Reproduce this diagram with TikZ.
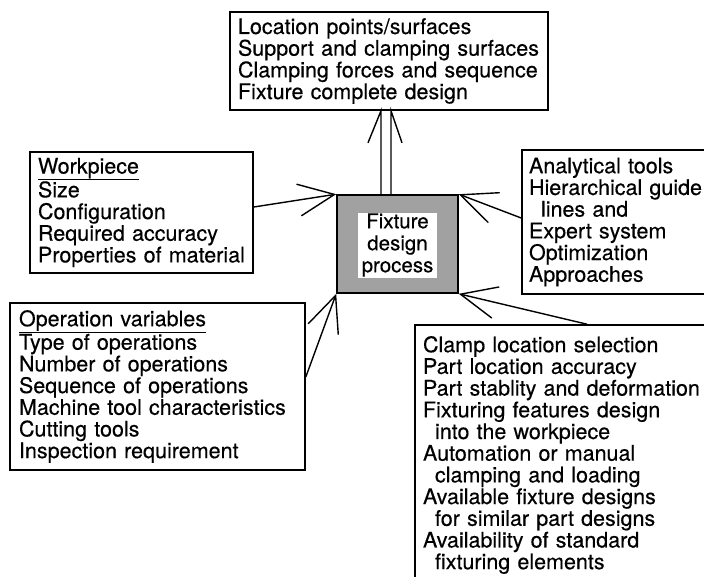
\documentclass[tikz,border=0pt]{standalone}
\usepackage{fontspec}
\setmainfont[FakeBold=0.35]{TeX Gyre Heros}
\usetikzlibrary{arrows.meta}
\begin{document}
\begin{tikzpicture}[x=1pt,y=-1pt,
  box/.style={draw, line width=1.6pt, align=left, inner xsep=8pt, inner ysep=0pt,
    font=\fontsize{21.5}{21.7}\selectfont},
  arr/.style={line width=1.4pt, -{Straight Barb[length=36pt,width=32pt,line width=1.4pt]}},
  dbl/.style={line width=1.4pt},
]
\useasboundingbox (0,0) rectangle (704,576);
% central box
\node[draw, line width=1.6pt, fill=black!37, minimum width=121pt, minimum height=98pt, inner sep=0pt] (center) at (397.5,244) {};
\node[fill=white, minimum width=79pt, minimum height=65pt, inner sep=0pt, align=center,
  font=\fontsize{20.5}{22}\selectfont] (ctext) at (397.5,245) {Fixture\\design\\process};
% top box
\node[box, text width=302pt, minimum height=98pt] (top) at (389,61)
 {Location points/surfaces\\Support and clamping surfaces\\Clamping forces and sequence\\Fixture complete design};
% workpiece
\node[box, text width=207pt, minimum height=121pt] (wp) at (141.5,212.5)
 {\underline{Workpiece}\\Size\\Configuration\\Required accuracy\\Properties of material};
% right box
\node[box, inner xsep=7pt, text width=194pt, minimum height=144pt] (rt) at (626,222)
 {Analytical tools\\Hierarchical guide\\\hspace*{12pt}lines and\\Expert system\\Optimization\\Approaches};
% operation
\node[box, inner xsep=9pt, text width=277pt, minimum height=167pt] (op) at (157.5,386.5)
 {\underline{Operation variables}\\Type of operations\\Number of operations\\Sequence of operations\\Machine tool characteristics\\Cutting tools\\Inspection requirement};
% bottom right
\node[box, text width=299pt, minimum height=260pt] (br) at (572.5,455)
 {Clamp location selection\\Part location accuracy\\Part stablity and deformation\\Fixturing features design\\\hspace*{12pt}into the workpiece\\Automation or manual\\\hspace*{12pt}clamping and loading\\Available fixture designs\\\hspace*{12pt}for similar part designs\\Availability of standard\\\hspace*{12pt}fixturing elements};
% arrows
\draw[arr] ([yshift=5.5pt]wp.east) -- (center.north west);
\draw[arr] ([yshift=4pt]rt.west) -- (center.north east);
\draw[arr] ([yshift=9.5pt]op.east) -- (center.south west);
\draw[arr] ([xshift=14.5pt]br.north) -- (center.south east);
% double arrow up
\coordinate (dl) at ([xshift=-16.5pt]center.north);
\coordinate (dr) at ([xshift=-6.5pt]center.north);
\draw[dbl] (dl) -- (dl |- top.south) -- ++(-13,32);
\draw[dbl] (dr) -- (dr |- top.south) -- ++(11,32);
\end{tikzpicture}
\end{document}
